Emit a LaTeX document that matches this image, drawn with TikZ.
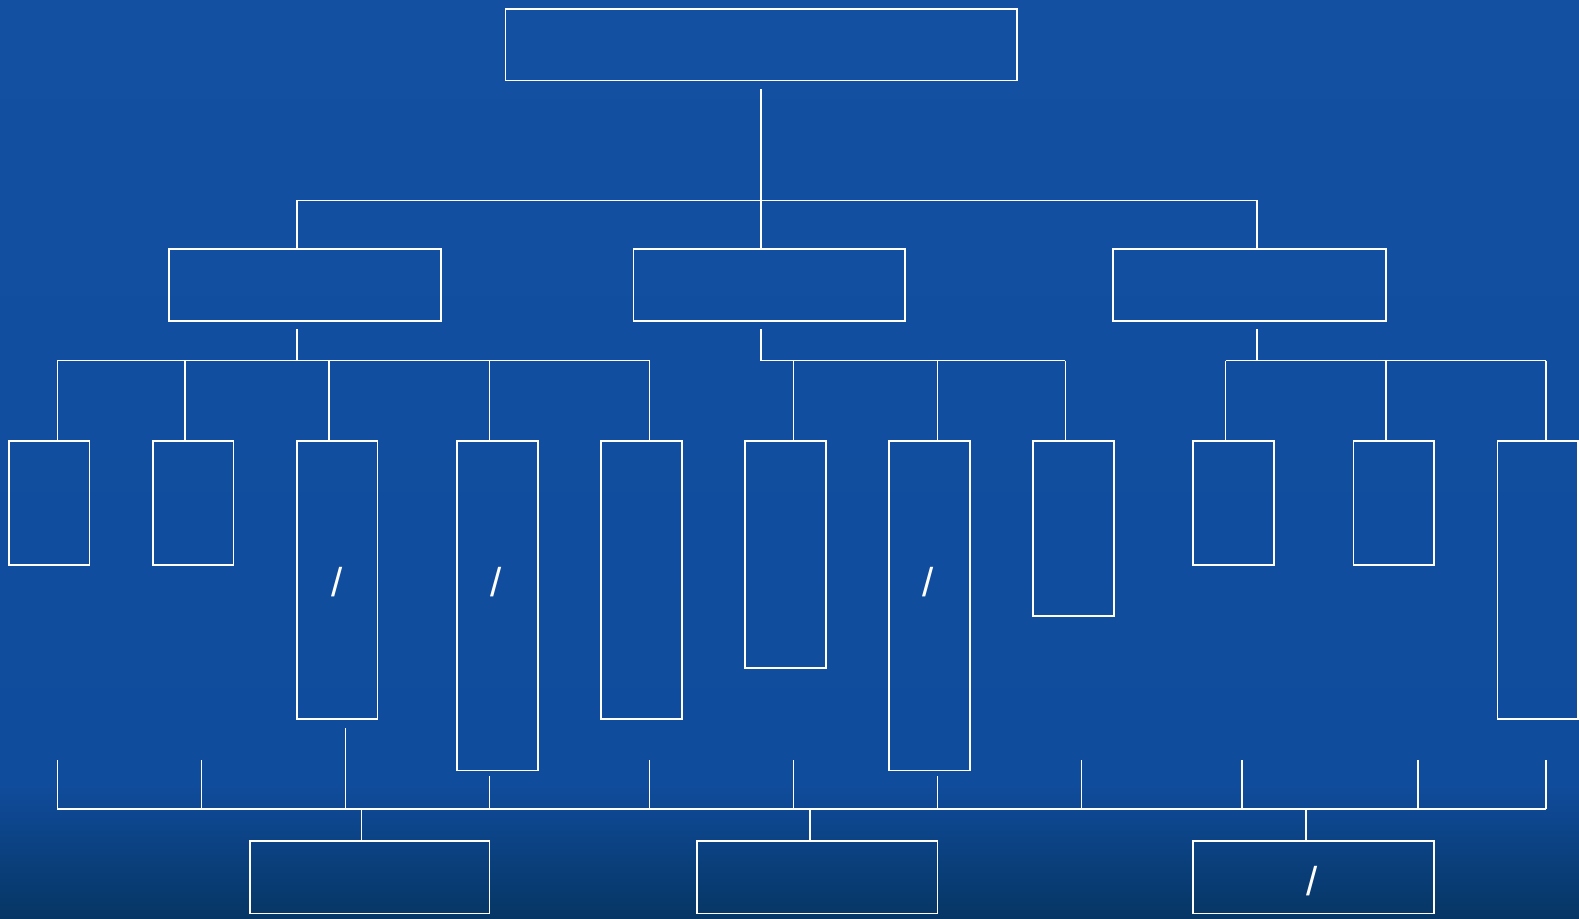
\documentclass[tikz,border=0pt]{standalone}
\usepackage{fontspec}
\setmainfont{Liberation Sans}
\usetikzlibrary{fit,calc}
\definecolor{bgtop}{RGB}{19,80,162}
\definecolor{bgmid}{RGB}{16,76,156}
\definecolor{bgbot}{RGB}{6,54,100}
\begin{document}
\begin{tikzpicture}[x=0.5pt,y=-0.5pt,
  box/.style={draw=white,line width=0.85pt,inner sep=0pt,rectangle},
  wire/.style={draw=white,line width=0.85pt},
  slash/.style={text=white,font=\fontsize{20}{20}\selectfont,inner sep=0pt}]
% background
\shade[top color=bgtop,bottom color=bgmid] (0,0) rectangle (1568,780);
\shade[top color=bgmid,bottom color=bgbot] (0,779) rectangle (1568,912);
\useasboundingbox (0,0) rectangle (1568,912);
% level 0
\node[box,fit={(502,9) (1010,80)}] (top) {};
% level 1
\node[box,fit={(168,247) (438,319)}] (L) {};
\node[box,fit={(629,247) (899,319)}] (M) {};
\node[box,fit={(1105,247) (1376,319)}] (R) {};
% level 2
\node[box,fit={(9,438) (89,561)}] (b1) {};
\node[box,fit={(152,438) (232,561)}] (b2) {};
\node[box,fit={(295,438) (375,714)}] (b3) {};
\node[box,fit={(454,438) (534,765)}] (b4) {};
\node[box,fit={(597,438) (677,714)}] (b5) {};
\node[box,fit={(740,438) (820,663)}] (b6) {};
\node[box,fit={(883,438) (963,765)}] (b7) {};
\node[box,fit={(1026,438) (1106,612)}] (b8) {};
\node[box,fit={(1185,438) (1265,561)}] (b9) {};
\node[box,fit={(1344,438) (1424,561)}] (b10) {};
\node[box,fit={(1487,438) (1567,714)}] (b11) {};
% level 3
\node[box,fit={(248,835) (486,907)}] (c1) {};
\node[box,fit={(692,835) (931,907)}] (c2) {};
\node[box,fit={(1185,835) (1424,907)}] (c3) {};
% slashes
\node[slash] (s3) at (335,578) {/};
\node[slash] (s4) at (493,578) {/};
\node[slash] (s7) at (922,578) {/};
\node[slash] (s12) at (1303,875) {/};
% junction coordinates
\coordinate (j0) at (756,199);
\coordinate (jL) at (295,199);
\coordinate (jR) at (1248,199);
\coordinate (gL) at (295,358);
\coordinate (gM) at (756,358);
\coordinate (gR) at (1248,358);
\foreach \n/\x in {d1/57,d2/184,d3/327,d4/486,d5/645,d6/788,d7/931,d8/1058,d9/1217,d10/1376,d11/1535}
  \coordinate (\n) at (\x,358);
% top trunk
\draw[wire] ($(top.south)+(0,8)$) -- (j0);
\draw[wire] (jL |- L.north) -- (jL) -- (jR) -- (jR |- R.north);
\draw[wire] (j0) -- (j0 |- M.north);
% level1 to bus
\draw[wire] ($(jL |- L.south)+(0,7)$) -- (gL);
\draw[wire] ($(j0 |- M.south)+(0,7)$) -- (gM);
\draw[wire] ($(jR |- R.south)+(0,7)$) -- (gR);
\draw[wire] (d1) -- (d5);
\draw[wire] (gM) -- (d8);
\draw[wire] (d9) -- (d11);
\foreach \i in {1,...,11} \draw[wire] (d\i) -- (d\i |- b\i.north);
% bottom bus
\coordinate (e1) at (57,803);
\coordinate (e11) at (1535,803);
\draw[wire] (e1) -- (e11);
\foreach \x/\y in {57/755,200/755,343/723,486/771,645/755,788/755,931/771,1074/755,1233/755,1408/755,1535/755}
  \draw[wire] (\x,803) -- (\x,\y);
\coordinate (f1) at (359,803);
\coordinate (f2) at (804,803);
\coordinate (f3) at (1297,803);
\draw[wire] (f1) -- (f1 |- c1.north);
\draw[wire] (f2) -- (f2 |- c2.north);
\draw[wire] (f3) -- (f3 |- c3.north);
\end{tikzpicture}
\end{document}
